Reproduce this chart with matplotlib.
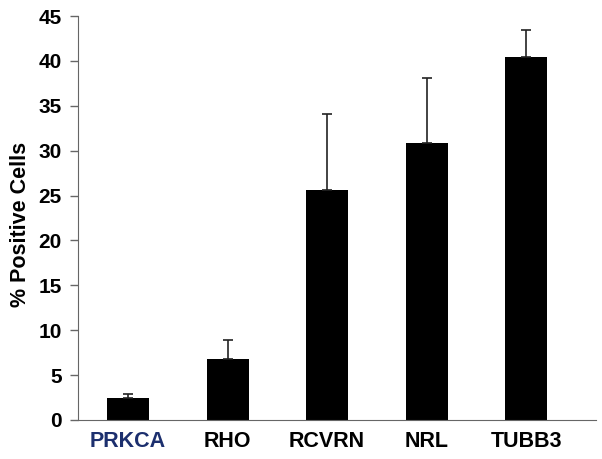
import matplotlib.pyplot as plt

# Datos
genes = ['PRKCA', 'RHO', 'RCVRN', 'NRL', 'TUBB3']
porcentaje = [2.5, 6.8, 25.6, 30.9, 40.4]
error_sup = [0.4, 2.1, 8.5, 7.2, 3.1]
colores_etiqueta = ['#1c2f6e', 'black', 'black', 'black', 'black']

plt.rcParams['font.family'] = ['Liberation Sans', 'DejaVu Sans']

fig = plt.figure(figsize=(6.02, 4.59), dpi=100)
ax = fig.add_axes([0.13, 0.085, 0.86, 0.88])

pos = range(len(genes))
ax.bar(pos, porcentaje, width=0.42, color='black',
       yerr=[[0] * len(genes), error_sup], ecolor='#222222',
       error_kw=dict(elinewidth=1.2, capsize=3.5, capthick=1.2))

ax.set_xlim(-0.5, 4.7)
ax.set_ylim(0, 45)
ax.set_yticks(range(0, 46, 5))
ax.set_xticks(list(pos))
ax.set_xticklabels(genes, fontsize=15.5, fontweight='bold')
for etiqueta, c in zip(ax.get_xticklabels(), colores_etiqueta):
    etiqueta.set_color(c)
ax.tick_params(axis='x', length=0, pad=8)
ax.tick_params(axis='y', labelsize=15, length=6, width=1, color='#666666',
               direction='out', pad=6)
for t in ax.get_yticklabels():
    t.set_fontweight('bold')
ax.set_ylabel('% Positive Cells', fontsize=15.5, fontweight='bold', labelpad=5)
ax.yaxis.label.set_y(0.485)

ax.spines['top'].set_visible(False)
ax.spines['right'].set_visible(False)
ax.spines['left'].set_color('#666666')
ax.spines['bottom'].set_color('#666666')

plt.savefig('out.png', dpi=100)
